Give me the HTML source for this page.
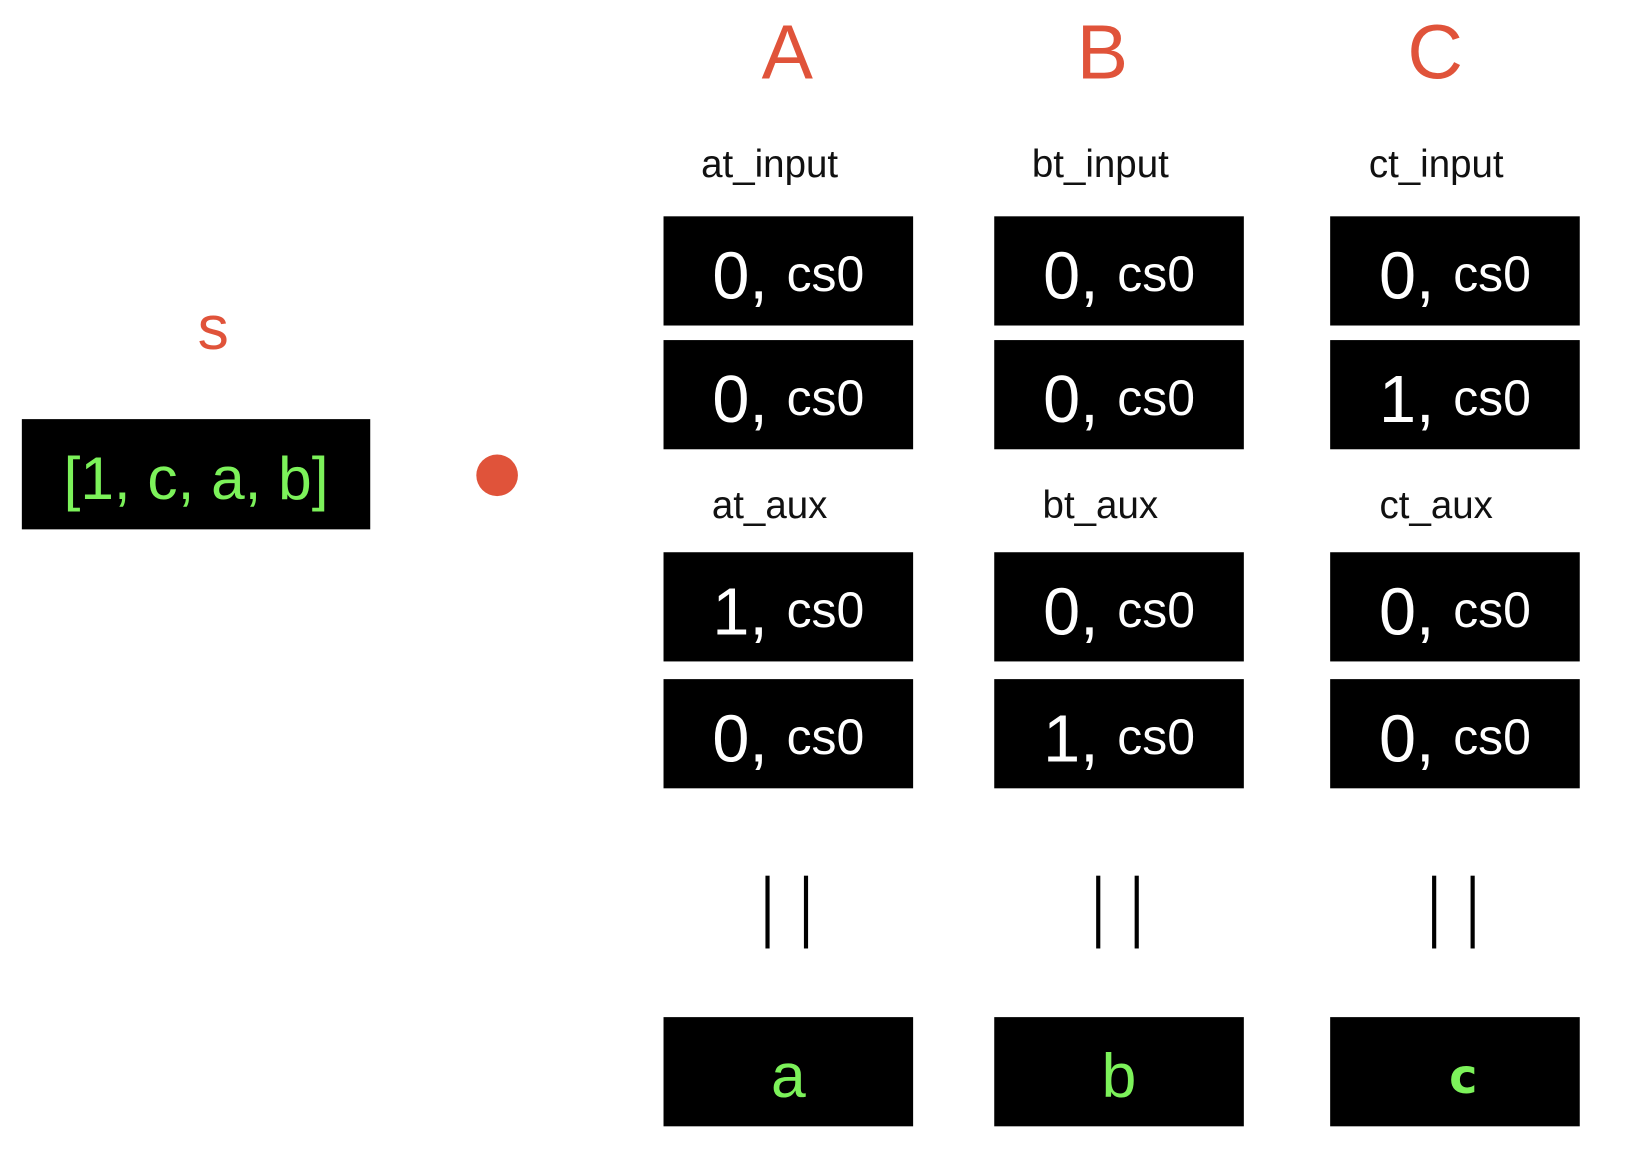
<!DOCTYPE html>
<html><head><meta charset="utf-8"><style>
html,body{margin:0;padding:0;background:#fff;width:1630px;height:1150px;overflow:hidden}
#stage{position:absolute;left:0;top:0;width:1556px;height:1098px;transform:scale(1.04);transform-origin:0 0;font-family:"Liberation Sans",sans-serif}
.t{position:absolute;transform:translate(-50%,-50%);white-space:nowrap}
.hdr{color:#e0533a;font-size:74px}
.lbl{color:#111;font-size:37px}
.box{position:absolute;background:#000;width:240px;height:105px;display:flex;align-items:center;justify-content:center;color:#fff;box-sizing:border-box;padding-top:8px}
.box .n{font-size:64px}
.box .c{font-size:48px;margin-left:18px}
.g{color:#7cf25a}
.bar{position:absolute;width:4px;height:70px;background:#000;top:842px}
</style></head><body>
<div id="stage">
<div class="t hdr" style="left:205px;top:315px;font-size:60px">s</div>
<div class="box" style="left:21px;top:403px;width:335px;height:106px"><span class="g" style="font-size:58px">[1, c, a, b]</span></div>
<div style="position:absolute;left:458px;top:437px;width:40px;height:40px;border-radius:50%;background:#e0533a"></div>
<div id="cols"></div>
</div>
<script>
const colNames=['A','B','C'];
const prefixes=['at','bt','ct'];
const inputVals=[[0,0],[0,1]].length?[[0,0],[0,0],[0,1]]:[];
const auxVals=[[1,0],[0,1],[0,0]];
const outs=['a','b','c'];
const xs=[638,956,1279];
const hx=[757,1060,1380];
const root=document.getElementById('stage');
function mk(cls,style,html,name){const d=document.createElement('div');d.className=cls;d.style.cssText=style;d.innerHTML=html;


root.appendChild(d);return d;}
colNames.forEach((n,i)=>{
 const cx=xs[i]+120;
 mk('t hdr',`left:${hx[i]}px;top:50px`,n,'column-header-'+n.toLowerCase());
 mk('t lbl',`left:${cx-18}px;top:158px`,prefixes[i]+'_input','input-label-'+n.toLowerCase());
 mk('t lbl',`left:${cx-18}px;top:486px`,prefixes[i]+'_aux','aux-label-'+n.toLowerCase());
 [208,327].forEach((y,j)=>mk('box',`left:${xs[i]}px;top:${y}px`,`<span class="n">${inputVals[i][j]},</span><span class="c">cs0</span>`,'input-cell-'+n.toLowerCase()+j));
 [531,653].forEach((y,j)=>mk('box',`left:${xs[i]}px;top:${y}px`,`<span class="n">${auxVals[i][j]},</span><span class="c">cs0</span>`,'aux-cell-'+n.toLowerCase()+j));
 mk('bar',`left:${cx-22}px`,'','bar-left-'+n.toLowerCase());
 mk('bar',`left:${cx+15}px`,'','bar-right-'+n.toLowerCase());
 const st=i==2?'font-size:46px;font-weight:bold;font-family:\'DejaVu Sans\',sans-serif;margin-left:16px':'font-size:60px';
 mk('box',`left:${xs[i]}px;top:978px`,`<span class="g" style="${st}">${outs[i]}</span>`,'output-cell-'+n.toLowerCase());
});
</script>
</body></html>
